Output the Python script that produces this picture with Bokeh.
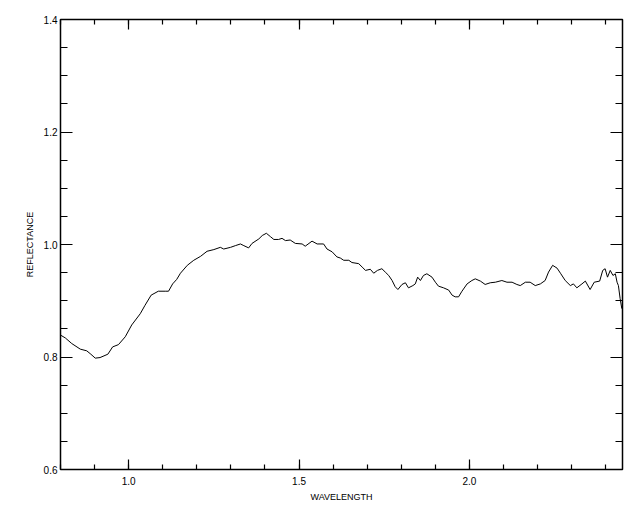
from bokeh.plotting import figure
from bokeh.models import Range1d, SingleIntervalTicker, PrintfTickFormatter, LinearAxis, CustomJSTickFormatter
from bokeh.embed import file_html
from bokeh.resources import INLINE

wavelength = [0.800, 0.814, 0.833, 0.858, 0.877, 0.889, 0.902, 0.916, 0.939, 0.953,
              0.970, 0.990, 1.009, 1.034, 1.048, 1.066, 1.087, 1.109, 1.117, 1.129,
              1.141, 1.152, 1.172, 1.191, 1.211, 1.230, 1.250, 1.269, 1.279, 1.299,
              1.313, 1.328, 1.338, 1.352, 1.362, 1.382, 1.392, 1.404, 1.416, 1.426,
              1.440, 1.450, 1.460, 1.474, 1.489, 1.509, 1.518, 1.538, 1.553, 1.572,
              1.582, 1.597, 1.611, 1.621, 1.631, 1.646, 1.655, 1.675, 1.685, 1.695,
              1.709, 1.719, 1.730, 1.743, 1.753, 1.763, 1.773, 1.782, 1.790, 1.802,
              1.812, 1.821, 1.834, 1.841, 1.848, 1.856, 1.865, 1.875, 1.890, 1.900,
              1.909, 1.924, 1.939, 1.949, 1.958, 1.968, 1.978, 1.993, 2.007, 2.017,
              2.032, 2.046, 2.061, 2.076, 2.095, 2.110, 2.125, 2.139, 2.149, 2.164,
              2.178, 2.193, 2.208, 2.222, 2.232, 2.244, 2.257, 2.268, 2.281, 2.296,
              2.305, 2.315, 2.330, 2.340, 2.354, 2.366, 2.382, 2.391, 2.398, 2.405,
              2.413, 2.421, 2.428, 2.433, 2.437, 2.442, 2.447]

reflectance = [0.839, 0.834, 0.824, 0.814, 0.811, 0.805, 0.798, 0.799, 0.805, 0.818,
               0.822, 0.836, 0.857, 0.877, 0.892, 0.910, 0.917, 0.917, 0.917, 0.930,
               0.938, 0.949, 0.963, 0.972, 0.979, 0.988, 0.991, 0.995, 0.992, 0.995,
               0.998, 1.001, 0.998, 0.994, 1.002, 1.010, 1.016, 1.020, 1.014, 1.009,
               1.009, 1.011, 1.007, 1.008, 1.002, 1.001, 0.997, 1.006, 1.001, 1.001,
               0.992, 0.987, 0.978, 0.976, 0.972, 0.972, 0.968, 0.966, 0.960, 0.954,
               0.956, 0.949, 0.954, 0.957, 0.951, 0.945, 0.936, 0.925, 0.920, 0.929,
               0.932, 0.923, 0.927, 0.930, 0.942, 0.936, 0.945, 0.948, 0.942, 0.933,
               0.926, 0.923, 0.919, 0.910, 0.907, 0.907, 0.917, 0.930, 0.936, 0.939,
               0.935, 0.929, 0.932, 0.933, 0.936, 0.933, 0.933, 0.929, 0.927, 0.933,
               0.933, 0.927, 0.930, 0.936, 0.951, 0.963, 0.958, 0.948, 0.936, 0.927,
               0.930, 0.923, 0.930, 0.935, 0.920, 0.933, 0.935, 0.954, 0.957, 0.942,
               0.954, 0.945, 0.948, 0.933, 0.927, 0.904, 0.886]

x_label = "WAVELENGTH"
y_label = "REFLECTANCE"

FONT = "Liberation Sans"

p = figure(width=632, height=504, output_backend="svg", toolbar_location=None,
           x_range=Range1d(0.8, 2.449), y_range=Range1d(0.6, 1.4001),
           x_axis_label=x_label, y_axis_label=y_label,
           min_border_left=60, min_border_right=10, min_border_top=19, min_border_bottom=32)

p.line(wavelength, reflectance, line_color="black", line_width=1)

p.xgrid.visible = False
p.ygrid.visible = False
p.outline_line_color = "black"
p.outline_line_width = 1.5
p.background_fill_color = "white"
p.border_fill_color = "white"

def style(ax, show_labels, ticker, major_in, minor_in):
    ax.ticker = ticker
    ax.axis_line_color = None
    ax.major_tick_in = major_in
    ax.major_tick_out = 0
    ax.minor_tick_in = minor_in
    ax.minor_tick_out = 0
    ax.major_tick_line_color = "black"
    ax.minor_tick_line_color = "black"
    ax.major_tick_line_width = 1.2
    ax.minor_tick_line_width = 1.2
    ax.major_label_text_font = FONT
    ax.major_label_text_font_size = "10px"
    ax.major_label_text_color = "black"
    ax.axis_label_text_font = FONT
    ax.axis_label_text_font_size = "9px"
    ax.axis_label_text_font_style = "normal"
    ax.axis_label_text_color = "black"
    if show_labels:
        ax.formatter = PrintfTickFormatter(format="%.1f")
    else:
        ax.formatter = CustomJSTickFormatter(code="return '';")
        ax.major_label_standoff = 0

xt = lambda: SingleIntervalTicker(interval=0.5, num_minor_ticks=5)
yt = lambda: SingleIntervalTicker(interval=0.2, num_minor_ticks=4)

style(p.xaxis[0], True, xt(), 10, 5)
p.xaxis[0].major_label_standoff = 7
p.xaxis[0].axis_label_standoff = 4
style(p.yaxis[0], True, yt(), 12, 7)
p.yaxis[0].major_label_standoff = 3
p.yaxis[0].axis_label_standoff = 6

top = LinearAxis()
style(top, False, xt(), 10, 5)
p.add_layout(top, "above")
right = LinearAxis()
style(right, False, yt(), 12, 7)
p.add_layout(right, "right")

open("out.html", "w").write(file_html(p, INLINE))
